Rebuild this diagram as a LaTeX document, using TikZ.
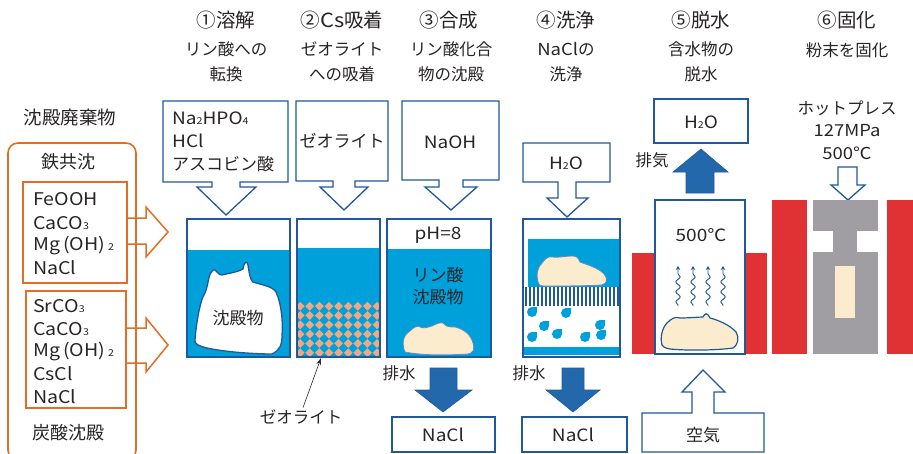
\documentclass[tikz,border=0pt]{standalone}
\usepackage{fontspec}
\setmainfont{Noto Sans CJK JP}
\newfontfamily\lat[FakeStretch=1.12]{Noto Sans CJK JP}
\usetikzlibrary{arrows.meta,decorations.pathmorphing}
\definecolor{ink}{RGB}{40,36,36}
\definecolor{rim}{RGB}{32,88,156}
\definecolor{water}{RGB}{0,160,218}
\definecolor{flow}{RGB}{36,104,172}
\definecolor{rust}{RGB}{226,110,38}
\definecolor{cake}{RGB}{250,236,204}
\definecolor{heater}{RGB}{224,50,52}
\definecolor{press}{RGB}{160,158,162}
\definecolor{zeo}{RGB}{240,168,128}
\newcommand\fsz[2]{\fontsize{#1}{#2}\selectfont}
\newcommand\sbs[1]{{\fontsize{9.5}{9.5}\selectfont #1}}
\begin{document}
\begin{tikzpicture}[x=1pt,y=-1pt,
  head/.style={font=\fsz{19.5}{22}, text=ink, inner sep=0},
  sub/.style={font=\fsz{16.5}{25}, text=ink, align=center, inner sep=0},
  lbl/.style={font=\fsz{17}{23}, text=ink, inner sep=0},
  listtxt/.style={font=\fsz{17.5}{23}\lat, text=ink, inner sep=0, anchor=west},
  callout/.style={draw=rim, line width=1.3, fill=white, line join=miter},
  beaker/.style={draw=rim, line width=1.6},
  drain/.style={fill=flow, draw=rim, line width=0.6},
  feed/.style={draw=rust, line width=1.5, line join=miter},
  wave/.style={rim, line width=0.9, -{Stealth[length=4pt,width=4.5pt]},
    decorate, decoration={snake, amplitude=2.2, segment length=10, pre length=1, post length=4}}
]
\useasboundingbox (0,0) rectangle (913,453);
\clip (0,0) rectangle (913,453);

% ---------- waste sources ----------
\node[lbl, font=\fsz{18.5}{22}] (waste) at (70,118) {沈殿廃棄物};
% feed arrows into step 1
\fill[white] (127,218) -- (146,218) -- (146,207) -- (168,232) -- (146,257) -- (146,244) -- (127,244) -- cycle;
\draw[feed] (127,218) -- (146,218) -- (146,207) -- (168,232) -- (146,257) -- (146,244) -- (127,244);
\fill[white] (126,328) -- (146,328) -- (146,318) -- (168,345) -- (146,372) -- (146,363) -- (126,363) -- cycle;
\draw[feed] (126,328) -- (146,328) -- (146,318) -- (168,345) -- (146,372) -- (146,363) -- (126,363);
\draw[rust, line width=1.6, rounded corners=10] (8,143) rectangle (136,460);
\node[lbl, font=\fsz{18}{22}] (fe) at (68,162) {鉄共沈};
\draw[rust, line width=1.3] (23,182) rectangle (127,283);
\node[listtxt] (fe1) at (33,199) {FeOOH};
\node[listtxt] (fe2) at (33,223) {CaCO\sbs{3}};
\node[listtxt] (fe3) at (33,246) {Mg\,(OH)\,\sbs{2}};
\node[listtxt] (fe4) at (33,268) {NaCl};
\draw[rust, line width=1.3] (26,291) rectangle (126,408);
\node[listtxt] (ca1) at (33,306) {SrCO\sbs{3}};
\node[listtxt] (ca2) at (33,329) {CaCO\sbs{3}};
\node[listtxt] (ca3) at (33,352) {Mg\,(OH)\,\sbs{2}};
\node[listtxt] (ca4) at (33,374) {CsCl};
\node[listtxt] (ca5) at (33,397) {NaCl};
\node[lbl, font=\fsz{18}{22}] (carb) at (68,433) {炭酸沈殿};

% ---------- step titles ----------
\node[head] (h1) at (226,20) {①溶解};
\node[head] (h2) at (342,20) {②{\lat Cs}吸着};
\node[head] (h3) at (449,20) {③合成};
\node[head] (h4) at (566,20) {④洗浄};
\node[head] (h5) at (701,20) {⑤脱水};
\node[head] (h6) at (847,20) {⑥固化};
\node[sub] (s1) at (226,62) {リン酸への\\転換};
\node[sub] (s2) at (342,62) {ゼオライト\\への吸着};
\node[sub] (s3) at (451,62) {リン酸化合\\物の沈殿};
\node[sub] (s4) at (566,62) {{\lat NaCl}の\\洗浄};
\node[sub] (s5) at (701,62) {含水物の\\脱水};
\node[sub] (s6) at (847,50) {粉末を固化};

% ---------- step 1: dissolution ----------
\draw[callout] (163,101) -- (288,101) -- (288,182) -- (240,182) -- (240,187) -- (256,187) -- (226,215)
  -- (197,187) -- (212,187) -- (212,182) -- (163,182) -- cycle;
\node[lbl, align=left, anchor=west] (r1) at (172,142) {{\lat Na\sbs{2}HPO\sbs{4}}\\{\lat HCl}\\アスコビン酸};
\fill[water] (187,250) rectangle (290,357);
\draw[rim, line width=1.3, fill=white]
  (195,340) .. controls (196,325) and (200,300) .. (205,293)
  .. controls (209,283) and (208,274) .. (213,270)
  .. controls (216,268) and (218,276) .. (222,275)
  .. controls (230,273) and (238,272) .. (243,269)
  .. controls (244,262) and (247,260) .. (248,265)
  .. controls (249,272) and (250,280) .. (253,282)
  .. controls (262,285) and (272,286) .. (276,292)
  .. controls (282,305) and (283,325) .. (282,335)
  .. controls (282,345) and (280,350) .. (272,354)
  .. controls (255,354) and (225,352) .. (207,348)
  .. controls (199,346) and (194,344) .. cycle;
\draw[beaker] (187,219) rectangle (290,357);
\node[lbl] (p1) at (238,318) {沈殿物};

% ---------- step 2: Cs adsorption ----------
\draw[callout] (296,101) -- (388,101) -- (388,181) -- (355,181) -- (355,187) -- (368,187) -- (344,210)
  -- (320,187) -- (333,187) -- (333,181) -- (296,181) -- cycle;
\node[lbl] (r2) at (342,141) {ゼオライト};
\fill[water] (297,248) rectangle (380,357);
\begin{scope}
  \clip (297,302) rectangle (380,357);
  \foreach \i in {0,...,9}
    \foreach \j in {0,...,6}
      \fill[zeo] (300.2+9.6*\i, 306.2+9.3*\j) +(-4.4,0) -- +(0,-4.4) -- +(4.4,0) -- +(0,4.4) -- cycle;
\end{scope}
\draw[beaker] (297,219) rectangle (380,357);
\node[lbl, font=\fsz{16.5}{20}] (zl) at (301,417) {ゼオライト};
\coordinate (zt) at (321,358);
\draw[ink, line width=0.6, -{Stealth[length=7pt,width=4.5pt]}] (zl.north) ++(2,-2) -- (zt);

% ---------- step 3: synthesis ----------
\draw[callout] (402,101) -- (499,101) -- (499,180) -- (463,180) -- (463,187) -- (477,187) -- (451,210)
  -- (425,187) -- (439,187) -- (439,180) -- (402,180) -- cycle;
\node[lbl, font=\fsz{17}{23}\lat] (r3) at (450,142) {NaOH};
\fill[water] (387,249) rectangle (491,357);
\draw[rim!70, line width=0.8, fill=cake]
  (405,352) .. controls (402,345) and (402,336) .. (410,331)
  .. controls (414,327) and (418,325) .. (420,327)
  .. controls (424,329) and (428,327) .. (432,326)
  .. controls (436,324) and (440,322) .. (443,323)
  .. controls (445,326) and (447,327) .. (455,327)
  .. controls (464,329) and (471,335) .. (473,343)
  .. controls (475,350) and (473,353) .. (468,354)
  .. controls (450,355) and (425,356) .. cycle;
\draw[beaker] (387,219) rectangle (491,357);
\node[lbl, font=\fsz{17}{23}\lat] (ph) at (438,235) {pH=8};
\node[lbl, align=center, font=\fsz{17}{22}] (p3) at (438,286) {リン酸\\沈殿物};
\fill[drain] (430,368) -- (457,368) -- (457,390) -- (472,390) -- (443,412) -- (415,390) -- (430,390) -- cycle;
\node[lbl, font=\fsz{16.5}{20}] (d3) at (399,373) {排水};
\draw[rim, line width=1.2] (392,417) rectangle (495,452);
\node[lbl, font=\fsz{17}{23}\lat] (n3) at (443,435) {NaCl};

% ---------- step 4: washing ----------
\draw[callout] (523,143) -- (610,143) -- (610,182) -- (576,182) -- (576,198) -- (588,198) -- (567,217)
  -- (547,198) -- (558,198) -- (558,182) -- (523,182) -- cycle;
\node[lbl, font=\fsz{17}{23}\lat] (r4) at (566,163) {H\sbs{2}O};
\fill[water] (528,239) rectangle (620,287);
\draw[rim!70, line width=0.8, fill=cake]
  (538,282) .. controls (536,275) and (537,268) .. (542,263)
  .. controls (545,259) and (548,256) .. (552,257)
  .. controls (558,258) and (565,256) .. (572,256)
  .. controls (576,256) and (578,257) .. (580,262)
  .. controls (588,265) and (598,268) .. (603,273)
  .. controls (608,278) and (608,283) .. (602,285)
  .. controls (585,286) and (560,286) .. (545,286)
  .. controls (540,286) and (538,285) .. cycle;
\foreach \k in {0,...,23}
  \fill[rim] (524.5+4*\k,287) rectangle ++(2,19);
\foreach \dx/\dy in {532/312, 566/313, 544/326, 557/334, 532/337, 585/337, 600/325, 601/335}
  \fill[water] (\dx,\dy) circle (5) (\dx,\dy) rectangle ++(5,-5);
\fill[water] (524,347) rectangle (620,355);
\draw[beaker] (523,219) rectangle (620,357);
\fill[drain] (562,368) -- (584,368) -- (584,390) -- (600,390) -- (573,412) -- (546,390) -- (562,390) -- cycle;
\node[lbl, font=\fsz{16.5}{20}] (d4) at (529,373) {排水};
\draw[rim, line width=1.2] (522,417) rectangle (627,452);
\node[lbl, font=\fsz{17}{23}\lat] (n4) at (573,435) {NaCl};

% ---------- step 5: dehydration ----------
\draw[rim, line width=1.2] (654,99) rectangle (748,143);
\node[lbl, font=\fsz{17}{23}\lat] (r5) at (701,122) {H\sbs{2}O};
\fill[drain] (686,193) -- (686,172) -- (673,172) -- (701,149) -- (728,172) -- (714,172) -- (714,193) -- cycle;
\node[lbl, font=\fsz{16.5}{20}] (ex) at (652,160) {排気};
\fill[heater] (632,253) rectangle (767,354);
\draw[rim, line width=1.6, fill=white] (655,200) rectangle (745,354);
\node[lbl, font=\fsz{17}{23}\lat] (t5) at (701,235) {500℃};
\foreach \wx in {678,693,708,723}
  \draw[wave] (\wx,306) -- (\wx,266);
\draw[rim, line width=1.2, fill=cake]
  (662,345) .. controls (660,338) and (662,328) .. (667,323)
  .. controls (671,319) and (675,316) .. (680,318)
  .. controls (690,318) and (698,317) .. (703,317)
  .. controls (705,313) and (707,312) .. (710,318)
  .. controls (718,320) and (730,325) .. (736,332)
  .. controls (739,337) and (739,344) .. (733,348)
  .. controls (720,350) and (690,351) .. (670,349)
  .. controls (665,348) and (663,347) .. cycle;
\draw[callout] (642,413) -- (692,413) -- (692,392) -- (682,392) -- (703,370) -- (725,392) -- (714,392)
  -- (714,413) -- (764,413) -- (764,452) -- (642,452) -- cycle;
\node[lbl] (air) at (703,435) {空気};

% ---------- step 6: hot pressing ----------
\node[sub, font=\fsz{16.5}{22.5}] (hp) at (847,130) {ホットプレス\\{\lat 127MPa}\\{\lat 500℃}};
\draw[callout] (838,167) -- (857,167) -- (857,185) -- (865,185) -- (848,200) -- (831,185) -- (838,185) -- cycle;
\fill[heater] (772,200) rectangle (807,354);
\fill[heater] (887,200) rectangle (913,354);
\fill[press] (813,200) rectangle (878,231);
\fill[press] (833,230) rectangle (857,253);
\fill[press] (813,252) rectangle (878,354);
\fill[cake] (835,266) rectangle (855,318);
\end{tikzpicture}
\end{document}
